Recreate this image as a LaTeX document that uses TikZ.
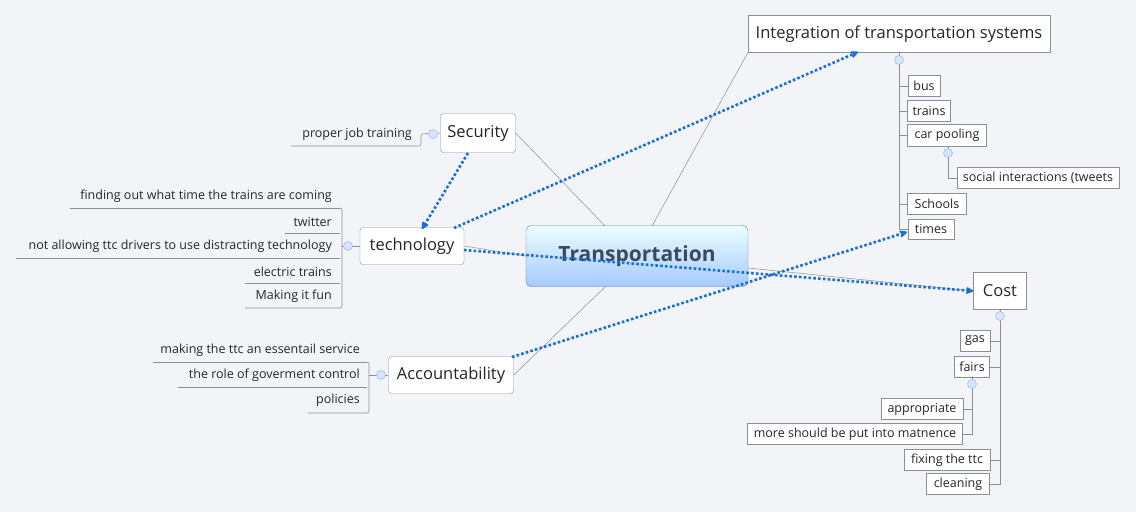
\documentclass[tikz,border=0pt]{standalone}
\usepackage{fontspec}
\setmainfont{Open Sans}
\usetikzlibrary{arrows.meta}
\definecolor{bg}{HTML}{F2F4F8}
\definecolor{ln}{HTML}{8A8F96}
\definecolor{dot}{HTML}{1A6FD0}
\definecolor{circ}{HTML}{BCD3EE}
\definecolor{ttl}{HTML}{3C4A5C}
\begin{document}
\begin{tikzpicture}[x=1pt,y=-1pt,
  main/.style={draw=ln,fill=white,rounded corners=3pt,inner sep=0pt,font=\fontsize{16.5}{19}\selectfont,text=black!85},
  sub/.style={draw=ln,fill=white,inner sep=0pt,font=\fontsize{12.5}{14}\selectfont,text=black!85},
  lbl/.style={inner sep=0pt,font=\fontsize{12.5}{14}\selectfont,text=black!85},
  conn/.style={draw=ln,line width=0.5pt},
  tree/.style={draw=ln,line width=0.6pt},
  rel/.style={draw=dot,line width=2.6pt,dash pattern=on 2.6pt off 2.2pt,-{Stealth[length=10pt,width=9pt,open,line width=2pt,round]}},
  knob/.style={circle,draw=circ!80!blue,fill=circ!60,minimum size=9pt,inner sep=0pt}]
\fill[bg] (0,0) rectangle (1136,512);
\useasboundingbox (0,0) rectangle (1136,512);
% main nodes
\node[draw=ln!80!blue,rounded corners=5pt,top color=blue!3!cyan!8,bottom color=cyan!40!blue!35,minimum width=222pt,minimum height=61pt,font=\bfseries\fontsize{21}{24}\selectfont,text=ttl] (T) at (637,256) {Transportation};
\node[main,rounded corners=0pt,minimum width=302pt,minimum height=37pt] (I) at (899,34) {Integration of transportation systems};
\node[main,minimum width=75pt,minimum height=39pt] (S) at (478,133) {Security};
\node[main,minimum width=104pt,minimum height=37pt] (Te) at (412,246) {technology};
\node[main,minimum width=125pt,minimum height=37pt] (A) at (451,375) {Accountability};
\node[main,rounded corners=0pt,minimum width=53pt,minimum height=37pt] (C) at (1000,291) {Cost};
% main connectors
\draw[conn] (652,226) -- (I.south west);
\draw[conn] (605,226) -- (S.east);
\draw[conn] (T.west) -- (Te.east);
\draw[conn] (605,287) -- (A.east);
\draw[conn] (748,268) -- (C.west);
% Integration subtree
\node[sub,minimum width=32pt,minimum height=21pt] (bus) at (924,86) {bus};
\node[sub,minimum width=43pt,minimum height=21pt] (tr) at (929,111) {trains};
\node[sub,minimum width=79pt,minimum height=22pt] (cp) at (947,135) {car pooling};
\node[sub,minimum width=162pt,minimum height=21pt] (si) at (1038,178) {social interactions (tweets};
\node[sub,minimum width=59pt,minimum height=21pt] (sch) at (937,204) {Schools};
\node[sub,minimum width=46pt,minimum height=20pt] (tim) at (931,229) {times};
\draw[tree] (899,53) -- (899,229) -- (tim.west);
\foreach \n in {bus,tr,cp,sch} \draw[tree] (899,0 |- \n.west) -- (\n.west);
\draw[tree] (948,146) -- (948,178) -- (si.west);
\node[knob] (k1) at (899,60) {};
\node[knob] (k2) at (948,153) {};
% Cost subtree
\node[sub,minimum width=30pt,minimum height=21pt] (gas) at (975,341) {gas};
\node[sub,minimum width=35pt,minimum height=21pt] (fa) at (972,367) {fairs};
\node[sub,minimum width=82pt,minimum height=21pt] (ap) at (922,409) {appropriate};
\node[sub,minimum width=215pt,minimum height=21pt] (ms) at (855,434) {more should be put into matnence};
\node[sub,minimum width=86pt,minimum height=21pt] (fx) at (947,460) {fixing the ttc};
\node[sub,minimum width=63pt,minimum height=21pt] (cl) at (958,484) {cleaning};
\draw[tree] (1000,309) -- (1000,484) -- (cl.east);
\foreach \n in {gas,fa,fx} \draw[tree] (1000,0 |- \n.east) -- (\n.east);
\draw[tree] (972,378) -- (972,434) -- (ms.east);
\draw[tree] (972,409) -- (ap.east);
\node[knob] (k3) at (1000,316) {};
\node[knob] (k4) at (972,384) {};
% Security subtree
\node[lbl,anchor=east] (pj) at (412,134) {proper job training};
\draw[tree,rounded corners=2pt] (291,146) -- (421,146) -- (421,134) -- (S.west);
\node[knob] (k5) at (433,134) {};
% technology subtree
\node[lbl,anchor=east] (t1) at (332,196) {finding out what time the trains are coming};
\node[lbl,anchor=east] (t2) at (332,222) {twitter};
\node[lbl,anchor=east] (t3) at (332,246) {not allowing ttc drivers to use distracting technology};
\node[lbl,anchor=east] (t4) at (332,272) {electric trains};
\node[lbl,anchor=east] (t5) at (332,296) {Making it fun};
\draw[tree] (70,208) -- (340,208);
\draw[tree] (285,233) -- (340,233);
\draw[tree] (16,258) -- (340,258);
\draw[tree] (245,283) -- (340,283);
\draw[tree,rounded corners=2pt] (245,308) -- (342,308) -- (342,208) -- (340,208);
\draw[tree] (342,246) -- (Te.west);
\node[knob] (k6) at (348,246) {};
% Accountability subtree
\node[lbl,anchor=east] (a1) at (360,350) {making the ttc an essentail service};
\node[lbl,anchor=east] (a2) at (360,375) {the role of goverment control};
\node[lbl,anchor=east] (a3) at (360,400) {policies};
\draw[tree] (153,362) -- (367,362);
\draw[tree] (178,387) -- (367,387);
\draw[tree,rounded corners=2pt] (308,413) -- (369,413) -- (369,362) -- (367,362);
\draw[tree] (369,375) -- (A.west);
\node[knob] (k7) at (381,375) {};
% relationships
\draw[rel] (468,153) -- (422,229);
\draw[rel] (454,228) -- (858,52);
\draw[rel] (464,250) -- (C.west);
\draw[rel] (512,357) -- (907,232);
\end{tikzpicture}
\end{document}
